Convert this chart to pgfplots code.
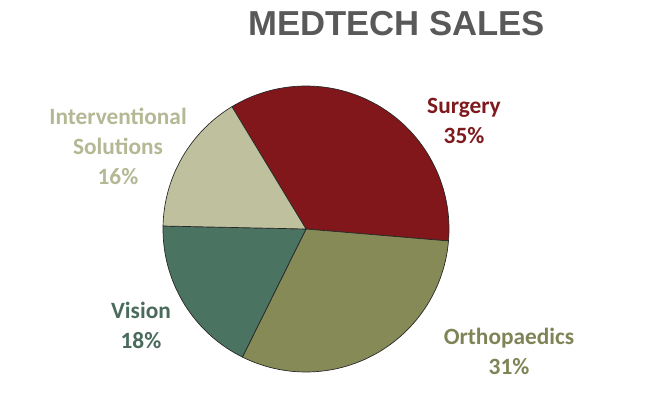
\documentclass[border=0pt]{standalone}
\usepackage{pgfplots}
\pgfplotsset{compat=1.18}
\usepackage{fontspec}
\setmainfont{Carlito}
\newfontfamily\titlefont{Liberation Sans}
\definecolor{surg}{HTML}{81171B}
\definecolor{orth}{HTML}{858A57}
\definecolor{visi}{HTML}{4B7361}
\definecolor{intv}{HTML}{BFC19E}
\definecolor{surgT}{HTML}{7E1A1E}
\definecolor{orthT}{HTML}{7F8456}
\definecolor{visiT}{HTML}{4A6B5C}
\definecolor{intvT}{HTML}{B5B895}
\definecolor{titleC}{HTML}{595959}
\def\vS{35}\def\vO{31}\def\vV{18}\def\vI{16}
\pgfmathsetmacro\aA{121.2}
\pgfmathsetmacro\aB{\aA-3.6*\vS}
\pgfmathsetmacro\aC{\aB-3.6*\vO}
\pgfmathsetmacro\aD{\aC-3.6*\vV}
\pgfmathsetmacro\aE{\aD-3.6*\vI}
\begin{document}
\begin{tikzpicture}
\begin{axis}[
  scale only axis, width=487.5pt, height=294.75pt,
  xmin=0, xmax=650, ymin=0, ymax=393,
  hide axis, clip=false,
  every axis plot/.append style={draw=black!85, line width=0.5pt, samples=80, variable=\t},
]
\addplot[fill=surg, domain=\aB:\aA] ({306+143*cos(\t)},{164+143*sin(\t)}) -- (axis cs:306,164) -- cycle;
\addplot[fill=orth, domain=\aC:\aB] ({306+143*cos(\t)},{164+143*sin(\t)}) -- (axis cs:306,164) -- cycle;
\addplot[fill=visi, domain=\aD:\aC] ({306+143*cos(\t)},{164+143*sin(\t)}) -- (axis cs:306,164) -- cycle;
\addplot[fill=intv, domain=\aE:\aD] ({306+143*cos(\t)},{164+143*sin(\t)}) -- (axis cs:306,164) -- cycle;
\node[font=\titlefont\bfseries\fontsize{26}{30}\selectfont, text=titleC] at (axis cs:396.5,369) {MEDTECH SALES};
\begin{scope}[every node/.style={align=center, font=\bfseries\fontsize{17.5}{22.5}\selectfont}]
\node[text=surgT] at (axis cs:464,272) {Surgery\\\vS\%};
\node[text=orthT] at (axis cs:509,42) {Orthopaedics\\\vO\%};
\node[text=visiT] at (axis cs:141,68) {Vision\\\vV\%};
\node[text=intvT] at (axis cs:118,247) {Interventional\\Solutions\\\vI\%};
\end{scope}
\end{axis}
\pgfresetboundingbox
\path (current axis.south west) rectangle (current axis.north east);
\end{tikzpicture}
\end{document}
